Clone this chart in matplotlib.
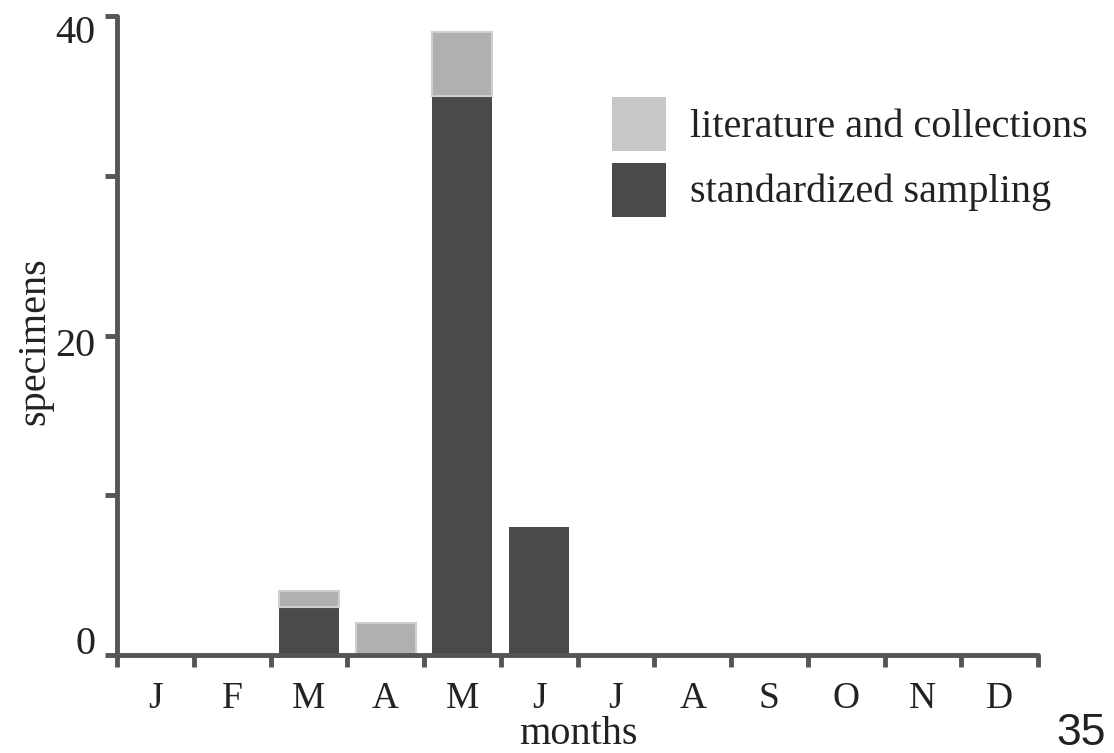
import matplotlib
matplotlib.use("Agg")
import matplotlib.pyplot as plt
import matplotlib.patches as mpatches
import matplotlib.transforms as mtransforms
import numpy as np

months = ['J', 'F', 'M', 'A', 'M', 'J', 'J', 'A', 'S', 'O', 'N', 'D']
standardized = [0, 0, 3, 0, 35, 8, 0, 0, 0, 0, 0, 0]
literature = [0, 0, 1, 2, 4, 0, 0, 0, 0, 0, 0, 0]
legend_labels = ['literature and collections', 'standardized sampling']

dark = '#4a4a4a'
light = '#b0b0b0'
axis_col = '#555555'
txt = '#222222'

plt.rcParams['font.family'] = ['Liberation Serif', 'DejaVu Serif']

W, H = 1114, 753
fig = plt.figure(figsize=(W / 100, H / 100), dpi=100)
ax = fig.add_axes([117 / W, 98 / H, (1038 - 117) / W, (655 - 16) / H])

x = np.arange(len(months)) + 0.5
ax.bar(x, standardized, width=0.78, color=dark, edgecolor='none', zorder=2)
edges = ['#cfcfcf' if v > 0 else 'none' for v in literature]
ax.bar(x, literature, width=0.78, bottom=standardized, color=light,
       edgecolor=edges, linewidth=1.5, zorder=2)

ax.set_xlim(0, 12)
ax.set_ylim(0, 40)

for s in ['top', 'right']:
    ax.spines[s].set_visible(False)
for s in ['left', 'bottom']:
    ax.spines[s].set_color(axis_col)
    ax.spines[s].set_linewidth(3.5)
    ax.spines[s].set_capstyle('round')

ax.set_yticks([0, 10, 20, 30, 40])
ax.set_yticklabels(['0', '', '20', '', '40'])
ax.tick_params(axis='y', direction='out', length=8.5, width=3.5, color=axis_col,
               labelsize=29, pad=7, labelcolor=txt)
# labels in the original sit a little off their ticks
shifts = {'0': 15, '20': -6, '40': -13}
for lab in ax.get_yticklabels():
    dy = shifts.get(lab.get_text(), 0)
    lab.set_transform(lab.get_transform() +
                      mtransforms.ScaledTranslation(0, dy / 100, fig.dpi_scale_trans))

ax.set_xticks(np.arange(0, 13))
ax.set_xticklabels([])
ax.tick_params(axis='x', which='major', direction='out', length=8.5, width=3.5,
               color=axis_col)
ax.set_xticks(x, minor=True)
ax.set_xticklabels(months, minor=True)
ax.tick_params(axis='x', which='minor', length=0, labelsize=27, pad=19,
               labelcolor=txt)

fig.text(35 / W, 1 - 341 / H, 'specimens', rotation=90, fontsize=29,
         ha='center', va='center', color=txt)
fig.text(578 / W, 9 / H, 'months', fontsize=29, ha='center', va='baseline',
         color=txt)
fig.text(1106 / W, 1 - 745 / H, '35', fontsize=32, ha='right', va='baseline',
         family='Liberation Sans', color=txt)

# legend drawn by hand to match the box sizes
leg_colors = ['#c8c8c8', dark]
leg_tops = [97, 163]
leg_base = [137, 202]
for col, top, base, lab in zip(leg_colors, leg_tops, leg_base, legend_labels):
    fig.add_artist(mpatches.Rectangle((612 / W, 1 - (top + 54) / H), 54 / W, 54 / H,
                                      transform=fig.transFigure, facecolor=col,
                                      edgecolor='none'))
    fig.text(690 / W, 1 - base / H, lab, fontsize=29, ha='left', va='baseline',
             color=txt)

fig.savefig('out.png', dpi=100)
